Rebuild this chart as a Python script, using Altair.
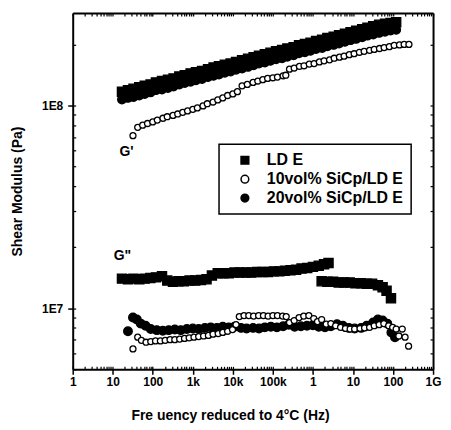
import altair as alt
import pandas as pd

SERIES = ["LD E", "10vol% SiCp/LD E", "20vol% SiCp/LD E"]
X_TITLE = "Fre uency reduced to 4°C (Hz)"
Y_TITLE = "Shear Modulus (Pa)"
ANNOT_GP = "G'"
ANNOT_GPP = 'G"'

# x tick labels at decades 10^0 .. 10^9
X_TICK_LABELS = ["1", "10", "100", "1k", "10k", "100k", "1", "10", "100", "1G"]
# y tick labels at decades
Y_TICK_DECADES = [7, 8]
Y_TICK_LABELS = ["1E7", "1E8"]

# ---- G' (storage modulus) ----
gp_freq = [17, 24, 33, 46, 63, 88, 120, 170, 240, 330,
           460, 630, 880, 1.2e3, 1.7e3, 2.4e3, 3.3e3, 4.5e3, 6.3e3, 8.8e3,
           1.2e4, 1.7e4, 2.4e4, 3.3e4, 4.5e4, 6.3e4, 8.7e4, 1.2e5, 1.7e5, 2.3e5,
           3.3e5, 4.5e5, 6.3e5, 8.7e5, 1.2e6, 1.7e6, 2.3e6, 3.3e6, 4.5e6, 6.3e6,
           8.7e6, 1.2e7, 1.7e7, 2.3e7, 3.2e7, 4.5e7, 6.3e7, 8.7e7, 1.2e8]
gp_lde = [1.17e8, 1.19e8, 1.21e8, 1.23e8, 1.25e8, 1.27e8, 1.30e8, 1.32e8, 1.34e8, 1.36e8,
          1.39e8, 1.41e8, 1.44e8, 1.46e8, 1.48e8, 1.51e8, 1.54e8, 1.56e8, 1.59e8, 1.61e8,
          1.64e8, 1.67e8, 1.70e8, 1.73e8, 1.76e8, 1.79e8, 1.82e8, 1.85e8, 1.88e8, 1.91e8,
          1.94e8, 1.98e8, 2.01e8, 2.04e8, 2.08e8, 2.11e8, 2.15e8, 2.18e8, 2.22e8, 2.26e8,
          2.30e8, 2.34e8, 2.38e8, 2.42e8, 2.46e8, 2.50e8, 2.53e8, 2.55e8, 2.57e8]
gp_20 = [1.07e8, 1.09e8, 1.10e8, 1.12e8, 1.14e8, 1.16e8, 1.19e8, 1.20e8, 1.22e8, 1.24e8,
         1.27e8, 1.29e8, 1.31e8, 1.33e8, 1.35e8, 1.38e8, 1.40e8, 1.42e8, 1.45e8, 1.47e8,
         1.50e8, 1.52e8, 1.55e8, 1.58e8, 1.61e8, 1.63e8, 1.66e8, 1.69e8, 1.71e8, 1.74e8,
         1.77e8, 1.81e8, 1.83e8, 1.86e8, 1.90e8, 1.92e8, 1.96e8, 1.99e8, 2.02e8, 2.06e8,
         2.10e8, 2.13e8, 2.17e8, 2.21e8, 2.24e8, 2.28e8, 2.31e8, 2.34e8, 2.36e8]
gp10_freq = [32, 42, 56, 74, 100, 130, 180, 230, 320, 420,
             560, 740, 1000, 1300, 1800, 2300, 3200, 4200, 5600, 7400,
             1.0e4, 1.3e4, 1.7e4, 2.3e4, 3.2e4, 4.2e4, 5.6e4, 7.4e4, 1.0e5, 1.3e5,
             1.8e5, 2.1e5, 2.6e5, 3.4e5, 4.6e5, 6.0e5, 8.1e5, 1.07e6, 1.45e6, 1.9e6,
             2.6e6, 3.4e6, 4.6e6, 6.0e6, 8.1e6, 1.07e7, 1.45e7, 1.9e7, 2.6e7, 3.4e7,
             4.6e7, 6.0e7, 8.1e7, 1.07e8, 1.45e8, 1.9e8, 2.5e8]
gp10_mod = [0.71e8, 0.78e8, 0.80e8, 0.815e8, 0.83e8, 0.847e8, 0.865e8, 0.88e8, 0.893e8, 0.908e8,
            0.925e8, 0.94e8, 0.957e8, 0.973e8, 0.995e8, 1.02e8, 1.04e8, 1.065e8, 1.09e8, 1.12e8,
            1.14e8, 1.17e8, 1.25e8, 1.27e8, 1.30e8, 1.32e8, 1.34e8, 1.36e8, 1.37e8, 1.38e8,
            1.40e8, 1.41e8, 1.51e8, 1.53e8, 1.56e8, 1.57e8, 1.60e8, 1.61e8, 1.64e8, 1.66e8,
            1.68e8, 1.71e8, 1.73e8, 1.75e8, 1.78e8, 1.80e8, 1.83e8, 1.85e8, 1.87e8, 1.89e8,
            1.91e8, 1.93e8, 1.95e8, 1.98e8, 1.99e8, 2.00e8, 2.00e8]

# ---- G" (loss modulus) ----
gpp_lde_freq = [17, 24, 33, 46, 63, 87, 120, 170, 230, 320,
                440, 600, 830, 1150, 1600, 2200, 3000, 4200, 5800, 7900,
                1.1e4, 1.5e4, 2.1e4, 2.9e4, 4.0e4, 5.5e4, 7.6e4, 1.05e5, 1.45e5, 2.0e5,
                2.75e5, 3.8e5, 5.2e5, 7.2e5, 1.0e6, 1.4e6, 1.9e6, 2.45e6,
                1.65e6, 2.3e6, 3.2e6, 4.4e6, 6.0e6, 8.3e6, 1.15e7, 1.6e7, 2.2e7, 3.0e7,
                4.2e7, 5.5e7, 6.9e7, 8.9e7]
gpp_lde = [1.40e7, 1.39e7, 1.40e7, 1.39e7, 1.40e7, 1.41e7, 1.42e7, 1.44e7, 1.37e7, 1.35e7,
           1.36e7, 1.36e7, 1.37e7, 1.37e7, 1.38e7, 1.39e7, 1.45e7, 1.49e7, 1.49e7, 1.49e7,
           1.50e7, 1.50e7, 1.50e7, 1.50e7, 1.51e7, 1.51e7, 1.51e7, 1.52e7, 1.52e7, 1.53e7,
           1.54e7, 1.55e7, 1.57e7, 1.58e7, 1.60e7, 1.62e7, 1.65e7, 1.67e7,
           1.36e7, 1.35e7, 1.35e7, 1.34e7, 1.34e7, 1.34e7, 1.33e7, 1.33e7, 1.32e7, 1.32e7,
           1.30e7, 1.27e7, 1.22e7, 1.12e7]
gpp20_freq = [24, 32, 40, 50, 66, 89, 126, 178, 250, 355,
              500, 710, 1000, 1400, 2000, 2800, 4000, 5600, 7900, 1.1e4,
              1.6e4, 2.2e4, 3.2e4, 4.5e4, 6.3e4, 8.9e4, 1.26e5, 1.8e5, 2.5e5, 3.5e5,
              5.0e5, 7.1e5, 1.0e6, 1.4e6, 2.0e6, 2.8e6, 4.0e6, 5.6e6, 7.9e6, 1.1e7,
              1.6e7, 2.2e7, 3.2e7, 4.2e7, 5.5e7, 7.2e7, 9.1e7, 1.12e8]
gpp20_mod = [7.7e6, 9.0e6, 8.8e6, 8.4e6, 8.2e6, 7.9e6, 7.8e6, 7.75e6, 7.8e6, 7.85e6,
             7.8e6, 7.9e6, 7.95e6, 7.9e6, 8.0e6, 8.05e6, 8.0e6, 8.1e6, 8.05e6, 8.1e6,
             8.0e6, 7.95e6, 8.0e6, 7.95e6, 8.05e6, 8.1e6, 8.05e6, 8.15e6, 8.3e6, 8.1e6,
             8.15e6, 8.2e6, 8.25e6, 8.1e6, 8.05e6, 8.15e6, 8.35e6, 8.2e6, 8.0e6, 7.95e6,
             8.0e6, 8.2e6, 8.5e6, 8.8e6, 8.7e6, 8.4e6, 7.6e6, 7.2e6]
gpp10_freq = [32, 42, 52, 68, 89, 117, 155, 204, 270, 355,
              470, 620, 810, 1070, 1400, 1860, 2450, 3200, 4300, 5600,
              7400, 9800, 1.2e4, 1.45e4, 1.9e4, 2.5e4, 3.3e4, 4.4e4, 5.8e4, 7.6e4,
              1.0e5, 1.3e5, 1.75e5, 2.15e5, 2.6e5, 3.4e5, 4.5e5, 5.9e5, 7.9e5, 1.05e6,
              1.3e6, 1.65e6, 2.15e6, 2.8e6, 3.7e6, 4.9e6, 6.5e6, 8.5e6, 1.1e7, 1.5e7,
              1.95e7, 2.6e7, 3.4e7, 4.5e7, 5.9e7, 7.8e7, 9.8e7, 1.2e8, 1.4e8, 1.7e8,
              2.0e8, 2.45e8]
gpp10_mod = [6.3e6, 7.2e6, 6.95e6, 6.8e6, 6.85e6, 6.9e6, 6.9e6, 6.95e6, 7.0e6, 7.0e6,
             7.05e6, 7.1e6, 7.15e6, 7.2e6, 7.25e6, 7.3e6, 7.35e6, 7.45e6, 7.5e6, 7.6e6,
             7.7e6, 7.85e6, 8.3e6, 9.1e6, 9.2e6, 9.2e6, 9.15e6, 9.2e6, 9.2e6, 9.15e6,
             9.2e6, 9.2e6, 9.15e6, 9.1e6, 8.5e6, 8.7e6, 9.0e6, 9.15e6, 9.2e6, 8.9e6,
             8.6e6, 8.8e6, 8.35e6, 8.4e6, 8.2e6, 8.05e6, 7.95e6, 7.9e6, 7.9e6, 7.95e6,
             8.0e6, 8.05e6, 8.2e6, 8.3e6, 8.4e6, 8.2e6, 8.05e6, 7.9e6, 7.3e6, 7.9e6,
             7.2e6, 6.5e6]

# ---- table ----
rows = []
for f, g in zip(gp_freq, gp_lde):
    rows.append((f, g, SERIES[0]))
for f, g in zip(gpp_lde_freq, gpp_lde):
    rows.append((f, g, SERIES[0]))
for f, g in zip(gp_freq, gp_20):
    rows.append((f, g, SERIES[2]))
for f, g in zip(gpp20_freq, gpp20_mod):
    rows.append((f, g, SERIES[2]))
for f, g in zip(gp10_freq, gp10_mod):
    rows.append((f, g, SERIES[1]))
for f, g in zip(gpp10_freq, gpp10_mod):
    rows.append((f, g, SERIES[1]))
df = pd.DataFrame(rows, columns=["freq", "modulus", "series"])

W, H = 362, 358
FONT = "Liberation Sans"

x_scale = alt.Scale(type="log", domain=[1, 1e9], nice=False)
y_scale = alt.Scale(type="log", domain=[5.0e6, 2.86e8], nice=False)

x_major = [10.0 ** k for k in range(10)]
x_all = [m * 10.0 ** k for k in range(9) for m in range(1, 10)] + [1e9]
y_major = [10.0 ** k for k in Y_TICK_DECADES]
y_all = [m * 10.0 ** k for k in (6, 7, 8) for m in range(1, 10)
         if 5.0e6 <= m * 10.0 ** k <= 2.86e8]

x_expr = "".join(
    f"abs(log(datum.value)/LN10 - {k}) < 0.001 ? '{lab}' : "
    for k, lab in enumerate(X_TICK_LABELS)) + "''"
y_expr = "".join(
    f"abs(log(datum.value)/LN10 - {k}) < 0.001 ? '{lab}' : "
    for k, lab in zip(Y_TICK_DECADES, Y_TICK_LABELS)) + "''"

legend = alt.Legend(
    title=None, orient="none", legendX=147, legendY=132, direction="vertical",
    strokeColor="black", fillColor="white", padding=8,
    symbolOffset=10, labelOffset=14, labelFontSize=16, labelFont=FONT,
    labelFontWeight="bold", labelColor="black", symbolSize=60,
    symbolStrokeColor="black", symbolStrokeWidth=1.5, rowPadding=3, labelLimit=400,
)
shape_enc = alt.Shape("series:N", scale=alt.Scale(domain=SERIES, range=["square", "circle", "circle"]),
                      legend=legend)
fill_enc = alt.Fill("series:N", scale=alt.Scale(domain=SERIES, range=["black", "white", "black"]),
                    legend=legend)
stroke_enc = alt.Stroke("series:N", scale=alt.Scale(domain=SERIES, range=["black", "black", "black"]),
                        legend=legend)

x_main_axis = alt.Axis(
    orient="bottom", values=x_major, labelExpr=x_expr, tickSize=5, tickWidth=1.5,
    tickColor="black", domainColor="black", domainWidth=2, labelFlush=False,
    labelFont=FONT, labelFontSize=12, labelFontWeight="bold", labelColor="black",
    labelPadding=2, grid=False, title=X_TITLE, titleFont=FONT, titleFontSize=14,
    titleFontWeight="bold", titleColor="black", titleX=158, titleY=46,
    titleAlign="center", titleBaseline="middle")
y_main_axis = alt.Axis(
    orient="left", values=y_major, labelExpr=y_expr, tickSize=5, tickWidth=1.5,
    tickColor="black", domainColor="black", domainWidth=2, labelFlush=False,
    labelFont=FONT, labelFontSize=12, labelFontWeight="bold", labelColor="black",
    labelPadding=5, grid=False, title=Y_TITLE, titleFont=FONT, titleFontSize=14,
    titleFontWeight="bold", titleColor="black", titleX=-55, titleY=H / 2,
    titleAngle=270, titleAlign="center", titleBaseline="middle")

base = alt.Chart(df)


def series_layer(name, size, x_axis=None, y_axis=None):
    return base.transform_filter(alt.datum.series == name).mark_point(
        filled=True, strokeWidth=1.3, opacity=1, size=size
    ).encode(
        x=alt.X("freq:Q", scale=x_scale, axis=x_axis),
        y=alt.Y("modulus:Q", scale=y_scale, axis=y_axis),
        shape=shape_enc,
        fill=fill_enc,
        stroke=stroke_enc,
    )


lde_layer = series_layer(SERIES[0], 85, x_main_axis, y_main_axis)
v20_layer = series_layer(SERIES[2], 75)
v10_layer = series_layer(SERIES[1], 36)

ghost = base.mark_point(opacity=0)

inner_b = ghost.encode(
    x=alt.X("freq:Q", scale=x_scale, axis=alt.Axis(
        orient="top", offset=-H, values=x_all, labels=False, tickSize=3, tickWidth=1.2,
        tickColor="black", domain=False, grid=False, title=None)),
    y=alt.Y("modulus:Q", scale=y_scale, axis=alt.Axis(
        orient="right", offset=-W, values=y_all, labels=False, tickSize=3, tickWidth=1.2,
        tickColor="black", domain=False, grid=False, title=None)),
)
frame_c = ghost.encode(
    x=alt.X("freq:Q", scale=x_scale, axis=alt.Axis(
        orient="bottom", offset=-H, values=x_all, labels=False, tickSize=3, tickWidth=1.2,
        tickColor="black", domain=True, domainColor="black", domainWidth=2, grid=False,
        title=None)),
    y=alt.Y("modulus:Q", scale=y_scale, axis=alt.Axis(
        orient="left", offset=-W, values=y_all, labels=False, tickSize=3, tickWidth=1.2,
        tickColor="black", domain=True, domainColor="black", domainWidth=2, grid=False,
        title=None)),
)

ann_gp = alt.Chart(pd.DataFrame({"t": [ANNOT_GP]})).mark_text(
    font=FONT, fontSize=14, fontWeight="bold", color="black").encode(
    text="t:N", x=alt.value(54), y=alt.value(140))
ann_gpp = alt.Chart(pd.DataFrame({"t": [ANNOT_GPP]})).mark_text(
    font=FONT, fontSize=14, fontWeight="bold", color="black").encode(
    text="t:N", x=alt.value(50), y=alt.value(244))

chart = alt.layer(lde_layer, v20_layer, v10_layer, inner_b, frame_c, ann_gp, ann_gpp).resolve_axis(
    x="independent", y="independent"
).properties(
    width=W, height=H,
    autosize=alt.AutoSizeParams(type="none"),
    padding={"left": 65, "top": 4, "right": 10, "bottom": 58},
    background="white",
).configure_view(stroke=None).configure_legend(strokeWidth=1.5)

chart.save("out.html", embed_options={"renderer": "svg", "actions": False})
